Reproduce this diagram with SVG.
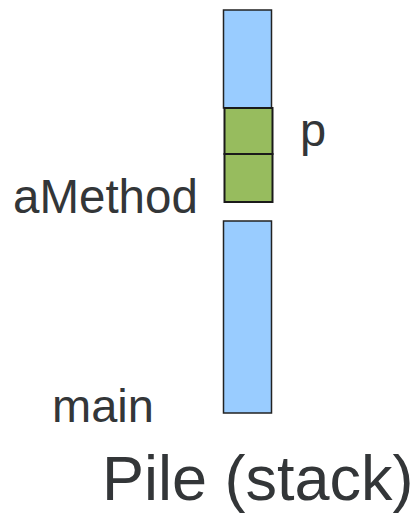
<svg xmlns="http://www.w3.org/2000/svg" width="416" height="514" viewBox="0 0 416 514">
  <style>
    .lbl { font-family: "Liberation Sans", Arial, sans-serif; fill: #333638; }
    .free { fill: #99ccff; stroke: #222; stroke-width: 1.5; }
    .used { fill: #97bc5e; stroke: #1a1a1a; stroke-width: 2; }
  </style>
  <rect width="416" height="514" fill="#ffffff"/>
  <g id="frame-top">
    <rect class="free" x="223.5" y="10" width="48" height="98"/>
  </g>
  <g id="frame-aMethod">
    <rect class="used" x="224.5" y="108" width="48" height="46"/>
    <rect class="used" x="224.5" y="154" width="48" height="48"/>
    <text class="lbl" x="13" y="213" font-size="47.5">aMethod</text>
    <text class="lbl" x="300" y="146" font-size="47">p</text>
  </g>
  <g id="frame-main">
    <rect class="free" x="223.5" y="221" width="48" height="192"/>
    <text class="lbl" x="52" y="422" font-size="47">main</text>
  </g>
  <g id="title">
    <text class="lbl" x="102" y="500" font-size="63">Pile (stack)</text>
  </g>
</svg>
